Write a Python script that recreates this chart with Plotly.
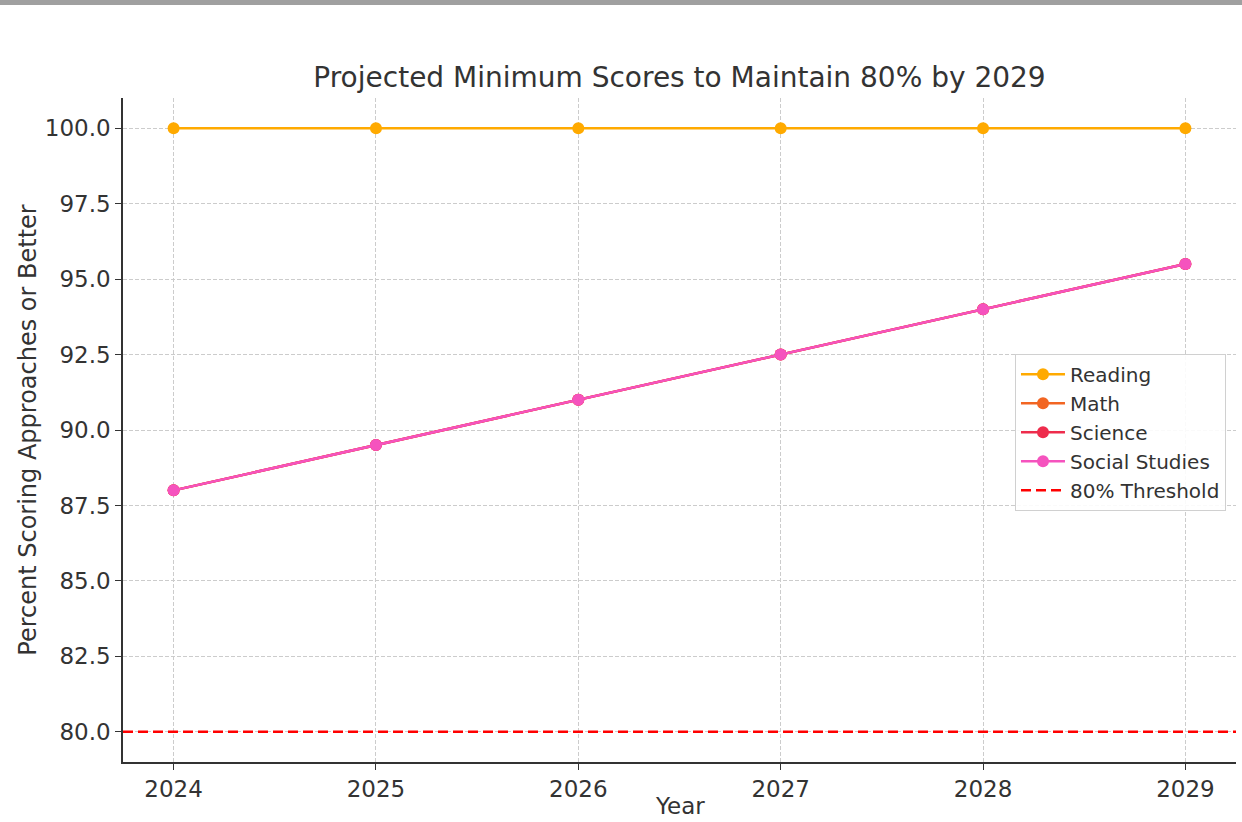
import plotly.graph_objects as go

years = [2024, 2025, 2026, 2027, 2028, 2029]
reading = [100, 100, 100, 100, 100, 100]
math = [88, 89.5, 91, 92.5, 94, 95.5]
science = [88, 89.5, 91, 92.5, 94, 95.5]
social_studies = [88, 89.5, 91, 92.5, 94, 95.5]
threshold = 80
y_ticks = [80.0, 82.5, 85.0, 87.5, 90.0, 92.5, 95.0, 97.5, 100.0]

series = [
    ("Reading", reading, "#FFAA00"),
    ("Math", math, "#F26522"),
    ("Science", science, "#EE2C4C"),
    ("Social Studies", social_studies, "#F553BE"),
]

fig = go.Figure()
for name, vals, color in series:
    fig.add_trace(go.Scatter(
        x=years, y=vals, name=name, mode="lines+markers",
        line=dict(color=color, width=2.5),
        marker=dict(color=color, size=12),
    ))
fig.add_trace(go.Scatter(
    x=[2023.75, 2029.25], y=[threshold, threshold], name="80% Threshold",
    mode="lines", line=dict(color="#FF0000", width=2.5, dash="10px,5px"),
))

font = "DejaVu Sans, Noto Sans, sans-serif"
fig.update_layout(
    width=1242, height=822,
    paper_bgcolor="white", plot_bgcolor="white",
    margin=dict(l=123, r=6, t=98, b=60, autoexpand=False),
    font=dict(family=font, color="#333333", size=23),
    title=dict(text="Projected Minimum Scores to Maintain 80% by 2029",
               xref="paper", x=0.5, xanchor="center", y=0.906, yanchor="middle",
               font=dict(size=28, color="#333333")),
    legend=dict(x=0.991, xanchor="right", y=0.615, yanchor="top",
                bgcolor="rgba(255,255,255,0.9)", bordercolor="#d0d0d0",
                borderwidth=1, font=dict(size=20, color="#333333"),
                tracegroupgap=0, itemwidth=44),
    showlegend=True,
    shapes=[dict(type="rect", xref="paper", yref="paper",
                 x0=-0.2, x1=1.2, y0=1.0 + 93/664, y1=1.2,
                 fillcolor="#a0a0a0", line=dict(width=0), layer="above")],
    annotations=[dict(text="Year", xref="paper", yref="paper", x=0.5, y=-0.066,
                      xanchor="center", yanchor="middle", showarrow=False,
                      font=dict(size=23, color="#333333"))],
)
fig.update_xaxes(
    range=[2023.75, 2029.25], tickvals=years, ticktext=[str(y) for y in years],
    automargin=False,
    showgrid=True, gridcolor="#cccccc", griddash="4px,2px", gridwidth=1,
    showline=True, linecolor="#333333", linewidth=1.5,
    ticks="outside", ticklen=6, tickcolor="#333333", zeroline=False,
    tickfont=dict(size=23),
)
fig.update_yaxes(
    range=[79, 101], tickvals=y_ticks, ticktext=[f"{v:.1f}" for v in y_ticks],
    automargin=False,
    title=dict(text="Percent Scoring Approaches or Better", font=dict(size=24), standoff=1),
    showgrid=True, gridcolor="#cccccc", griddash="4px,2px", gridwidth=1,
    showline=True, linecolor="#333333", linewidth=1.5,
    ticks="outside", ticklen=6, tickcolor="#333333", zeroline=False,
    tickfont=dict(size=23),
)
fig.write_html("out.html", config={"displayModeBar": False},
               post_script="document.body.style.margin='0';document.body.style.overflow='hidden';")
